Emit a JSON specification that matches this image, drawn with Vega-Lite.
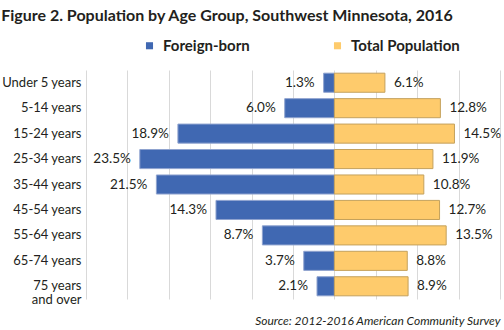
{
  "$schema": "https://vega.github.io/schema/vega-lite/v6.json",
  "autosize": {"type": "none"},
  "width": 414,
  "height": 229,
  "padding": {"left": 86, "top": 70, "right": 4, "bottom": 31},
  "background": "white",
  "config": {
    "font": "Lato",
    "view": {"stroke": null},
    "text": {"font": "Lato"}
  },
  "title": {
    "text": "Figure 2. Population by Age Group, Southwest Minnesota, 2016",
    "anchor": "start",
    "frame": "bounds",
    "font": "Lato",
    "fontSize": 16,
    "fontWeight": "bold",
    "color": "#231f20",
    "offset": 14
  },
  "data": {
    "values": [
      {"age": "Under 5 years", "group": "Foreign-born", "value": 1.3},
      {"age": "Under 5 years", "group": "Total Population", "value": 6.1},
      {"age": "5-14 years", "group": "Foreign-born", "value": 6.0},
      {"age": "5-14 years", "group": "Total Population", "value": 12.8},
      {"age": "15-24 years", "group": "Foreign-born", "value": 18.9},
      {"age": "15-24 years", "group": "Total Population", "value": 14.5},
      {"age": "25-34 years", "group": "Foreign-born", "value": 23.5},
      {"age": "25-34 years", "group": "Total Population", "value": 11.9},
      {"age": "35-44 years", "group": "Foreign-born", "value": 21.5},
      {"age": "35-44 years", "group": "Total Population", "value": 10.8},
      {"age": "45-54 years", "group": "Foreign-born", "value": 14.3},
      {"age": "45-54 years", "group": "Total Population", "value": 12.7},
      {"age": "55-64 years", "group": "Foreign-born", "value": 8.7},
      {"age": "55-64 years", "group": "Total Population", "value": 13.5},
      {"age": "65-74 years", "group": "Foreign-born", "value": 3.7},
      {"age": "65-74 years", "group": "Total Population", "value": 8.8},
      {"age": "75 years|and over", "group": "Foreign-born", "value": 2.1},
      {"age": "75 years|and over", "group": "Total Population", "value": 8.9}
    ]
  },
  "transform": [
    {"calculate": "datum.group == 'Foreign-born' ? -datum.value : datum.value", "as": "signed"},
    {"calculate": "format(datum.value, '.1f') + '%'", "as": "label"}
  ],
  "encoding": {
    "y": {
      "field": "age",
      "type": "nominal",
      "sort": ["Under 5 years", "5-14 years", "15-24 years", "25-34 years", "35-44 years", "45-54 years", "55-64 years", "65-74 years", "75 years|and over"],
      "scale": {"paddingInner": 0.25, "paddingOuter": 0.125},
      "axis": {
        "title": null,
        "ticks": false,
        "domain": false,
        "labelFontSize": 13,
        "labelColor": "#231f20",
        "labelPadding": 5,
        "labelLineHeight": 14,
        "labelExpr": "split(datum.label, '|')"
      }
    },
    "x": {
      "field": "signed",
      "type": "quantitative",
      "scale": {"domain": [-30, 20], "nice": false, "zero": false},
      "axis": {
        "values": [-30, -25, -20, -15, -10, -5, 0, 5, 10, 15, 20],
        "labels": false,
        "ticks": false,
        "domain": false,
        "grid": true,
        "gridColor": "#d9d9d9",
        "gridWidth": 1,
        "title": "Source: 2012-2016 American Community Survey",
        "titleAnchor": "end",
        "titleFontStyle": "italic",
        "titleFontWeight": "normal",
        "titleFontSize": 12,
        "titleColor": "#231f20",
        "titlePadding": 16
      }
    }
  },
  "layer": [
    {
      "mark": {"type": "bar", "strokeWidth": 1},
      "encoding": {
        "color": {
          "field": "group",
          "type": "nominal",
          "scale": {"domain": ["Foreign-born", "Total Population"], "range": ["#4068b2", "#fecb6c"]},
          "legend": {
            "title": null,
            "orient": "none",
            "direction": "horizontal",
            "legendX": 56,
            "legendY": -32,
            "symbolType": "square",
            "symbolSize": 50,
            "symbolStrokeWidth": 0,
            "labelFontSize": 15,
            "labelFontWeight": "bold",
            "labelColor": "#231f20",
            "labelOffset": 6,
            "columnPadding": 80,
            "padding": 0
          }
        },
        "stroke": {
          "field": "group",
          "type": "nominal",
          "scale": {"domain": ["Foreign-born", "Total Population"], "range": ["#8fa3cf", "#c4a15c"]},
          "legend": null
        }
      }
    },
    {
      "transform": [{"filter": "datum.group == 'Foreign-born'"}],
      "mark": {"type": "text", "align": "right", "dx": -9, "fontSize": 13.5, "color": "#231f20"},
      "encoding": {"text": {"field": "label"}}
    },
    {
      "transform": [{"filter": "datum.group == 'Total Population'"}],
      "mark": {"type": "text", "align": "left", "dx": 9, "fontSize": 13.5, "color": "#231f20"},
      "encoding": {"text": {"field": "label"}}
    }
  ]
}
